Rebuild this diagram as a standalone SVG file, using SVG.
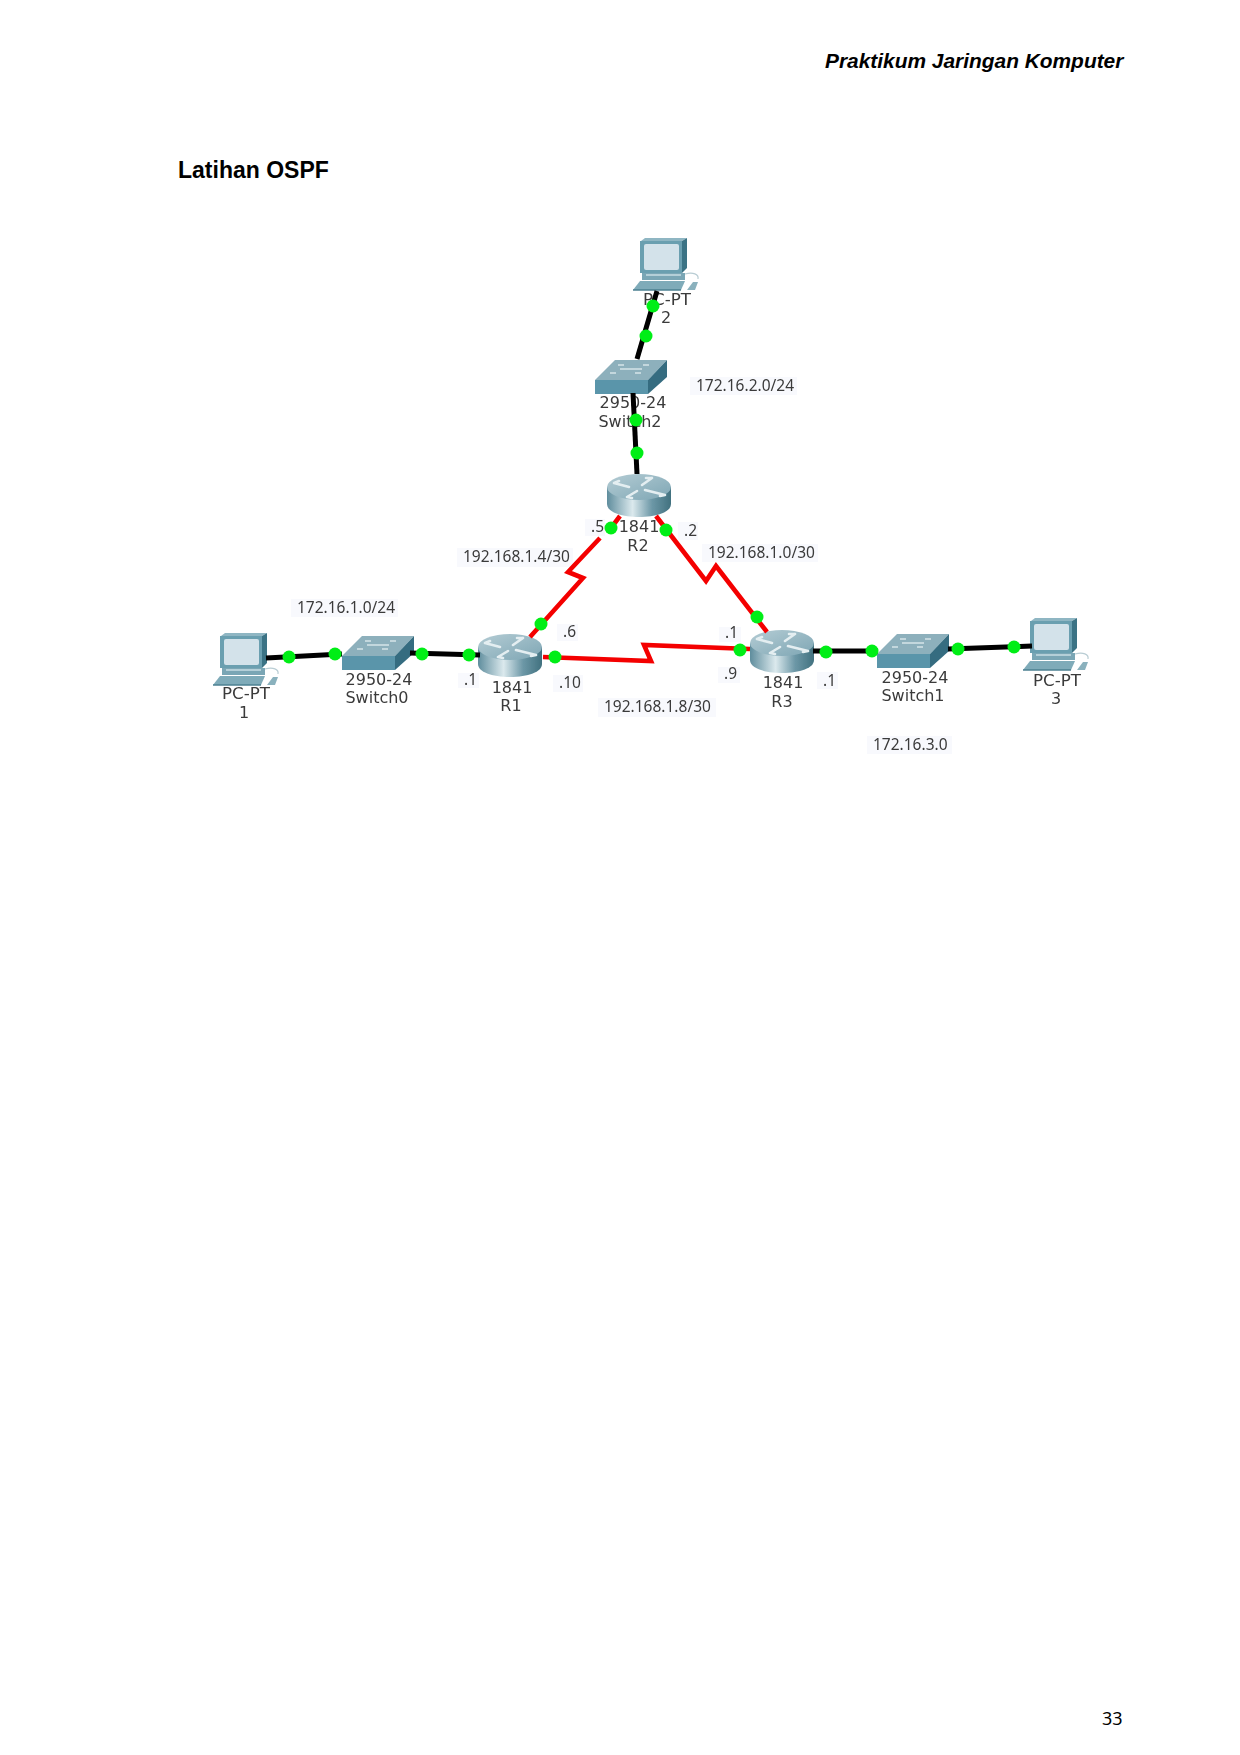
<svg xmlns="http://www.w3.org/2000/svg" width="1240" height="1755" viewBox="0 0 1240 1755">
<style>
.lbl{font-family:"DejaVu Sans","Liberation Sans",sans-serif;font-size:16px;fill:#3a3a3a;text-anchor:middle}
.wide{font-size:16.7px}
.ip{font-family:"Noto Sans","Liberation Sans",sans-serif;font-size:15.5px;fill:#3a3a3a}
.bg{fill:#f8f9fd}
.eth{fill:none;stroke:#000;stroke-width:5}
.ser{fill:none;stroke:#f40000;stroke-width:4.6;stroke-linejoin:miter}
.dot{fill:#06ee16}
.hd{font-family:"Liberation Sans",Arial,sans-serif;font-weight:bold;fill:#000}
.mark{fill:none;stroke:#e4eef1;stroke-width:2.6;stroke-linecap:round;stroke-linejoin:round}
.soft{filter:url(#soft)}
</style>
<defs>
<filter id="soft" x="-5%" y="-5%" width="110%" height="110%"><feGaussianBlur stdDeviation="0.45"/></filter>
<linearGradient id="rb" x1="0" x2="1" y1="0" y2="0">
<stop offset="0" stop-color="#5f8d9d"/><stop offset=".4" stop-color="#dbe9ed"/><stop offset=".7" stop-color="#6d98a7"/><stop offset="1" stop-color="#41717f"/>
</linearGradient>
<linearGradient id="rt" x1="0" x2="1" y1="0" y2="1">
<stop offset="0" stop-color="#b4ccd4"/><stop offset="1" stop-color="#7ea6b4"/>
</linearGradient>
<symbol id="pc" width="66" height="54" viewBox="0 0 66 54" overflow="visible">
<path d="M8 3L12 0H54L49 3Z" fill="#8fb6c3"/>
<path d="M49 3L54 0V30L49 35Z" fill="#3b7385"/>
<rect x="7" y="3" width="42" height="32" fill="#6a9fb0"/>
<rect x="11" y="6" width="35" height="26" rx="2" fill="#d3e2ea"/>
<path d="M9 35H52V42H9Z" fill="#7aa6b5"/>
<path d="M13 37H48" stroke="#c9dde4" stroke-width="1.5"/>
<path d="M0 52L7 43H52L48 52Z" fill="#7fabb9"/>
<path d="M0 52H48" stroke="#4d8192" stroke-width="1.5"/>
<path d="M52 36C60 34 66 36 65 41" fill="none" stroke="#b9cdd4" stroke-width="1.2"/>
<path d="M54 52L60 44H65L62 52Z" fill="#8ab1bd"/>
</symbol>
<symbol id="sw" width="72" height="34" viewBox="0 0 72 34" overflow="visible">
<path d="M0 20L20 0H72L53 20Z" fill="#8db0bc"/>
<path d="M0 20H53V34H0Z" fill="#5a95aa"/>
<path d="M53 20L72 0V17L53 34Z" fill="#356c80"/>
<path d="M23 5H29M48 5H54M15 13H21M40 13H46M25 9L47 9" stroke="#d5e3e8" stroke-width="1.6" fill="none"/>
</symbol>
<symbol id="rt1" width="64" height="44" viewBox="0 0 64 44" overflow="visible">
<path d="M0 13V30C0 38 14 43 32 43S64 38 64 30V13Z" fill="url(#rb)"/>
<ellipse cx="32" cy="13" rx="32" ry="13" fill="url(#rt)"/>
<path class="mark" d="M7 9L22 13M7 9L12 7M35 11L45 4M45 4L39 4M20 23L30 17M20 23L25 24M38 16L58 21M58 21L53 22"/>
</symbol>
</defs>
<rect width="1240" height="1755" fill="#fff"/>
<text class="hd" x="825" y="68" font-size="20.9" font-style="italic">Praktikum Jaringan Komputer</text>
<text class="hd" x="178" y="178" font-size="23">Latihan OSPF</text>
<text x="1102" y="1725" font-family="'Noto Sans','Open Sans',sans-serif" font-size="18" fill="#000">33</text>

<g id="pc1" class="soft"><use href="#pc" x="213" y="633"/><text class="lbl wide" x="246" y="699">PC-PT</text><text class="lbl" x="244" y="718">1</text></g>
<g id="pc2" class="soft"><use href="#pc" x="633" y="238"/><text class="lbl wide" x="667" y="305">PC-PT</text><text class="lbl" x="666" y="323">2</text></g>
<g id="pc3" class="soft"><use href="#pc" x="1023" y="618"/><text class="lbl wide" x="1057" y="686">PC-PT</text><text class="lbl" x="1056" y="704">3</text></g>
<g id="switch0" class="soft"><use href="#sw" x="342" y="636"/><text class="lbl" x="379" y="685">2950-24</text><text class="lbl" x="377" y="703">Switch0</text></g>
<g id="switch1" class="soft"><use href="#sw" x="877" y="634"/><text class="lbl" x="915" y="683">2950-24</text><text class="lbl" x="913" y="701">Switch1</text></g>
<g id="switch2" class="soft"><use href="#sw" x="595" y="360"/><text class="lbl" x="633" y="408">2950-24</text><text class="lbl" x="630" y="427">Switch2</text></g>
<g id="r1" class="soft"><use href="#rt1" x="478" y="634"/><text class="lbl" x="512" y="693">1841</text><text class="lbl" x="511" y="711">R1</text></g>
<g id="r2" class="soft"><use href="#rt1" x="607" y="474"/><text class="lbl" x="639" y="532">1841</text><text class="lbl" x="638" y="551">R2</text></g>
<g id="r3" class="soft"><use href="#rt1" x="750" y="630"/><text class="lbl" x="783" y="688">1841</text><text class="lbl" x="782" y="707">R3</text></g>

<g id="net-labels" class="soft">
<rect class="bg" x="291" y="599" width="107" height="18"/><text class="ip" x="297" y="613">172.16.1.0/24</text>
<rect class="bg" x="690" y="377" width="107" height="18"/><text class="ip" x="696" y="391">172.16.2.0/24</text>
<rect class="bg" x="867" y="736" width="85" height="18"/><text class="ip" x="873" y="750">172.16.3.0</text>
<rect class="bg" x="457" y="548" width="116" height="19"/><text class="ip" x="463" y="562">192.168.1.4/30</text>
<rect class="bg" x="702" y="544" width="116" height="18"/><text class="ip" x="708" y="558">192.168.1.0/30</text>
<rect class="bg" x="598" y="698" width="118" height="19"/><text class="ip" x="604" y="712">192.168.1.8/30</text>
<rect class="bg" x="585" y="519" width="20" height="17"/><text class="ip" x="591" y="532">.5</text>
<rect class="bg" x="678" y="522" width="20" height="18"/><text class="ip" x="684" y="536">.2</text>
<rect class="bg" x="557" y="624" width="21" height="17"/><text class="ip" x="563" y="637">.6</text>
<rect class="bg" x="719" y="627" width="22" height="15"/><text class="ip" x="725" y="638">.1</text>
<rect class="bg" x="718" y="667" width="22" height="16"/><text class="ip" x="724" y="679">.9</text>
<rect class="bg" x="553" y="675" width="30" height="17"/><text class="ip" x="559" y="688">.10</text>
<rect class="bg" x="458" y="673" width="21" height="15"/><text class="ip" x="464" y="685">.1</text>
<rect class="bg" x="817" y="672" width="21" height="17"/><text class="ip" x="823" y="686">.1</text>
</g>

<g id="connectors" class="soft">
<path class="eth" d="M657 291L637 359"/>
<path class="eth" d="M633 393L637 474"/>
<path class="eth" d="M266 658L342 654"/>
<path class="eth" d="M410 653L480 655"/>
<path class="eth" d="M813 651L878 651"/>
<path class="eth" d="M948 649L1032 646"/>
<path class="ser" d="M620 516L611 528M600 538L568 572L583 578L530 637"/>
<path class="ser" d="M656 516L706 581L716 566L767 632"/>
<path class="ser" d="M543 657L651 661L644 645L750 649"/>
<g class="dot">
<circle cx="653" cy="306" r="6.5"/><circle cx="646" cy="336" r="6.5"/>
<circle cx="636" cy="420" r="6.5"/><circle cx="637" cy="453" r="6.5"/>
<circle cx="289" cy="657" r="6.5"/><circle cx="335" cy="654" r="6.5"/>
<circle cx="422" cy="654" r="6.5"/><circle cx="469" cy="655" r="6.5"/>
<circle cx="826" cy="652" r="6.5"/><circle cx="872" cy="651" r="6.5"/>
<circle cx="958" cy="649" r="6.5"/><circle cx="1014" cy="647" r="6.5"/>
<circle cx="611" cy="528" r="6.5"/><circle cx="541" cy="624" r="6.5"/>
<circle cx="666" cy="530" r="6.5"/><circle cx="757" cy="617" r="6.5"/>
<circle cx="555" cy="657" r="6.5"/><circle cx="740" cy="650" r="6.5"/>
</g>
</g>
</svg>
